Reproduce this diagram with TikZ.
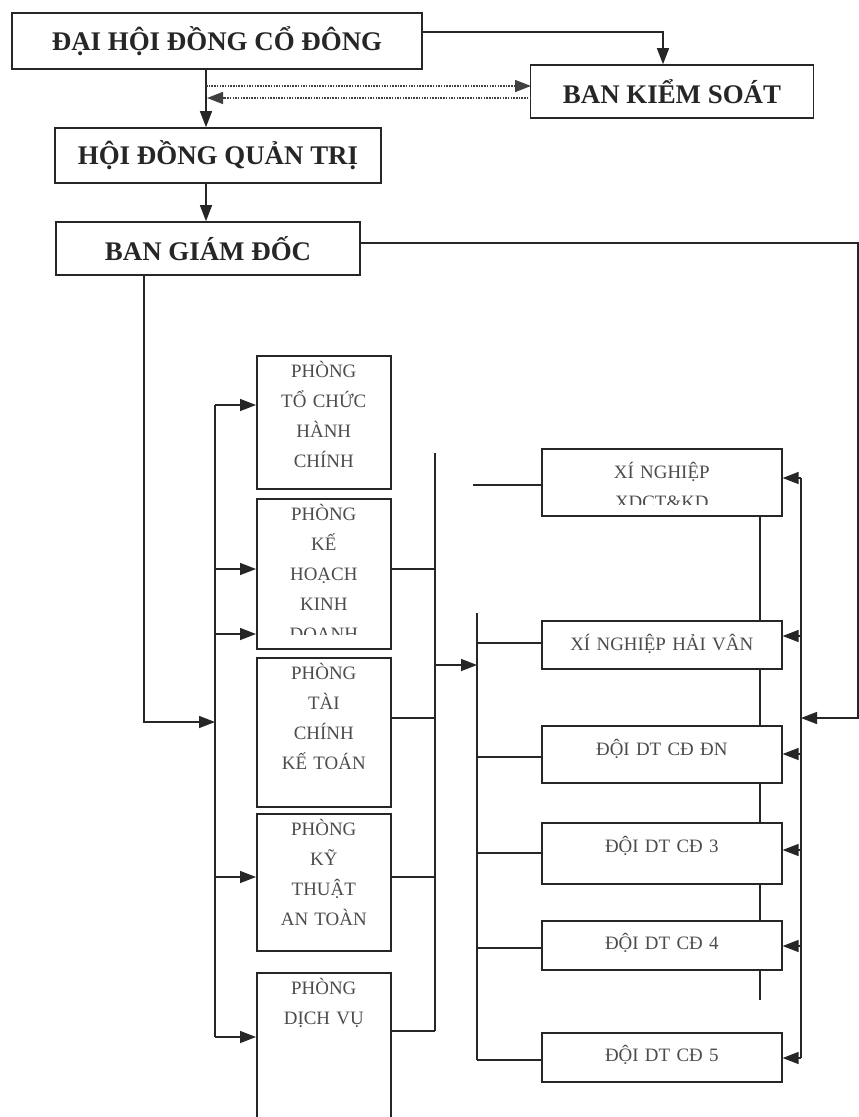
\documentclass[tikz,border=0pt]{standalone}
\usepackage{fontspec}
\setmainfont{Liberation Serif}
\usetikzlibrary{arrows.meta, positioning}

\begin{document}
\begin{tikzpicture}[
  x=1bp, y=-1bp,
  line width=1.4bp, color=black!85,
  head/.style={rectangle, draw, line width=1.6bp, inner sep=0pt, font=\fontsize{27}{32}\selectfont\bfseries},
  unit/.style={rectangle, draw, line width=1.6bp, anchor=north west, inner sep=0pt},
  dept/.style={unit, minimum width=134bp},
  firm/.style={unit, minimum width=240bp},
  lbl/.style={anchor=north, inner sep=0pt, align=center, text=black!70, font=\fontsize{19}{30}\selectfont},
  arr/.style={-{Triangle[length=16bp, width=12bp]}},
  dotarr/.style={arr, dash pattern=on 1.5bp off 1.2bp, black!75},
]

% page frame
\clip (0,0) rectangle (859,1117);
\fill[white] (0,0) rectangle (859,1117);

% Top management
\node[head, minimum width=410bp, minimum height=56bp] (dhcd) at (217,41) {ĐẠI HỘI ĐỒNG CỔ ĐÔNG};
\node[head, minimum width=283bp, minimum height=53bp] (bks) at (672,91.5) {BAN KIỂM SOÁT};
\node[head, minimum width=326bp, minimum height=55bp] (hdqt) at (218,155.5) {HỘI ĐỒNG QUẢN TRỊ};
\node[head, minimum width=304bp, minimum height=53bp] (bgd) at (208,248.5) {BAN GIÁM ĐỐC};

% Departments (left column)
\node[dept, minimum height=133bp] (tchc) at (256,355) {};
\node[dept, minimum height=150bp] (khkd) at (256,498) {};
\node[dept, minimum height=149bp] (tckt) at (256,657) {};
\node[dept, minimum height=137bp] (ktat) at (256,813) {};
\node[dept, minimum height=160bp] (dv) at (256,972) {};

\node[lbl, text width=134bp] (tchc-t) at ([yshift=-1bp]tchc.north) {\strut PHÒNG\\TỔ CHỨC\\HÀNH\\CHÍNH};
\begin{scope}
  \clip (khkd.north west) rectangle ([yshift=15bp]khkd.south east);
  \node[lbl, text width=134bp] (khkd-t) at ([yshift=-1bp]khkd.north) {\strut PHÒNG\\KẾ\\HOẠCH\\KINH\\DOANH};
\end{scope}
\node[lbl, text width=134bp] (tckt-t) at ([yshift=-1bp]tckt.north) {\strut PHÒNG\\TÀI\\CHÍNH\\KẾ TOÁN};
\node[lbl, text width=134bp] (ktat-t) at ([yshift=-1bp]ktat.north) {\strut PHÒNG\\KỸ\\THUẬT\\AN TOÀN};
\node[lbl, text width=134bp] (dv-t) at ([yshift=-1bp]dv.north) {\strut PHÒNG\\DỊCH VỤ};

% Enterprises and teams (right column)
\node[firm, minimum height=67bp] (xd) at (541,448) {};
\node[firm, minimum height=48bp] (hv) at (541,620) {};
\node[firm, minimum height=57bp] (dn) at (541,725) {};
\node[firm, minimum height=61bp] (c3) at (541,822) {};
\node[firm, minimum height=49bp] (c4) at (541,920) {};
\node[firm, minimum height=49bp] (c5) at (541,1032) {};

\begin{scope}
  \clip (xd.north west) rectangle ([yshift=12bp]xd.south east);
  \node[lbl, text width=240bp] (xd-t) at ([yshift=-9bp]xd.north) {\strut XÍ NGHIỆP\\XDCT\&KD};
\end{scope}
\node[lbl, text width=240bp] (hv-t) at ([yshift=-9bp]hv.north) {\strut XÍ NGHIỆP HẢI VÂN};
\node[lbl, text width=240bp] (dn-t) at ([yshift=-9bp]dn.north) {\strut ĐỘI DT CĐ ĐN};
\node[lbl, text width=240bp] (c3-t) at ([yshift=-9bp]c3.north) {\strut ĐỘI DT CĐ 3};
\node[lbl, text width=240bp] (c4-t) at ([yshift=-8bp]c4.north) {\strut ĐỘI DT CĐ 4};
\node[lbl, text width=240bp] (c5-t) at ([yshift=-8bp]c5.north) {\strut ĐỘI DT CĐ 5};

% Top connectors
\coordinate (trunk) at (206,0);
\coordinate (kso) at (663,32);
\coordinate (d1) at (531,86);
\coordinate (d2) at (531,98);
\draw[arr] (dhcd.east |- kso) -| (bks.north -| kso);
\draw[arr] (dhcd.south -| trunk) -- (hdqt.north -| trunk);
\draw[dotarr] (trunk |- d1) -- (d1);
\draw[dotarr] (d2) -- ([xshift=1bp]trunk |- d2);
\draw[arr] (hdqt.south -| trunk) -- (bgd.north -| trunk);

% Director board to both buses
\coordinate (gdx) at (144,0);
\coordinate (lbin) at (215,722);
\coordinate (eb) at (858,243);
\coordinate (sbin) at (801,718);
\draw[arr] (bgd.south -| gdx) -- (gdx |- lbin) -- (lbin);
\draw[arr] (bgd.east |- eb) -| (eb |- sbin) -- (sbin);

% Left bus to departments
\draw (215,405) -- (215,1037);
\foreach \n/\y in {tchc/405, khkd/569, khkd/634, ktat/877, dv/1037}
  \draw[arr] (215,\y) -- (\n.west |- 0,\y);

% Departments to collector
\draw (435,453) -- (435,1031);
\foreach \n/\y in {khkd/569, tckt/718, ktat/877, dv/1031}
  \draw (\n.east |- 0,\y) -- (435,\y);
\draw[arr] (435,665) -- (477,665);

% Collector bus to units
\draw (477,613) -- (477,1060);
\draw (473,485) -- (xd.west |- 0,485);
\foreach \n/\y in {hv/643, dn/757, c3/853, c4/948, c5/1060}
  \draw (477,\y) -- (\n.west |- 0,\y);

% Inner link between units
\coordinate (cx) at (760,0);
\draw (xd.south -| cx) -- (hv.north -| cx)
      (hv.south -| cx) -- (dn.north -| cx)
      (dn.south -| cx) -- (c3.north -| cx)
      (c3.south -| cx) -- (c4.north -| cx)
      (c4.south -| cx) -- (cx |- 0,1000);

% Right bus to units
\draw (801,478) -- (801,1058);
\foreach \n/\y in {xd/478, hv/636, dn/754, c3/850, c4/946, c5/1058}
  \draw[arr] (801,\y) -- (\n.east |- 0,\y);

\end{tikzpicture}
\end{document}
